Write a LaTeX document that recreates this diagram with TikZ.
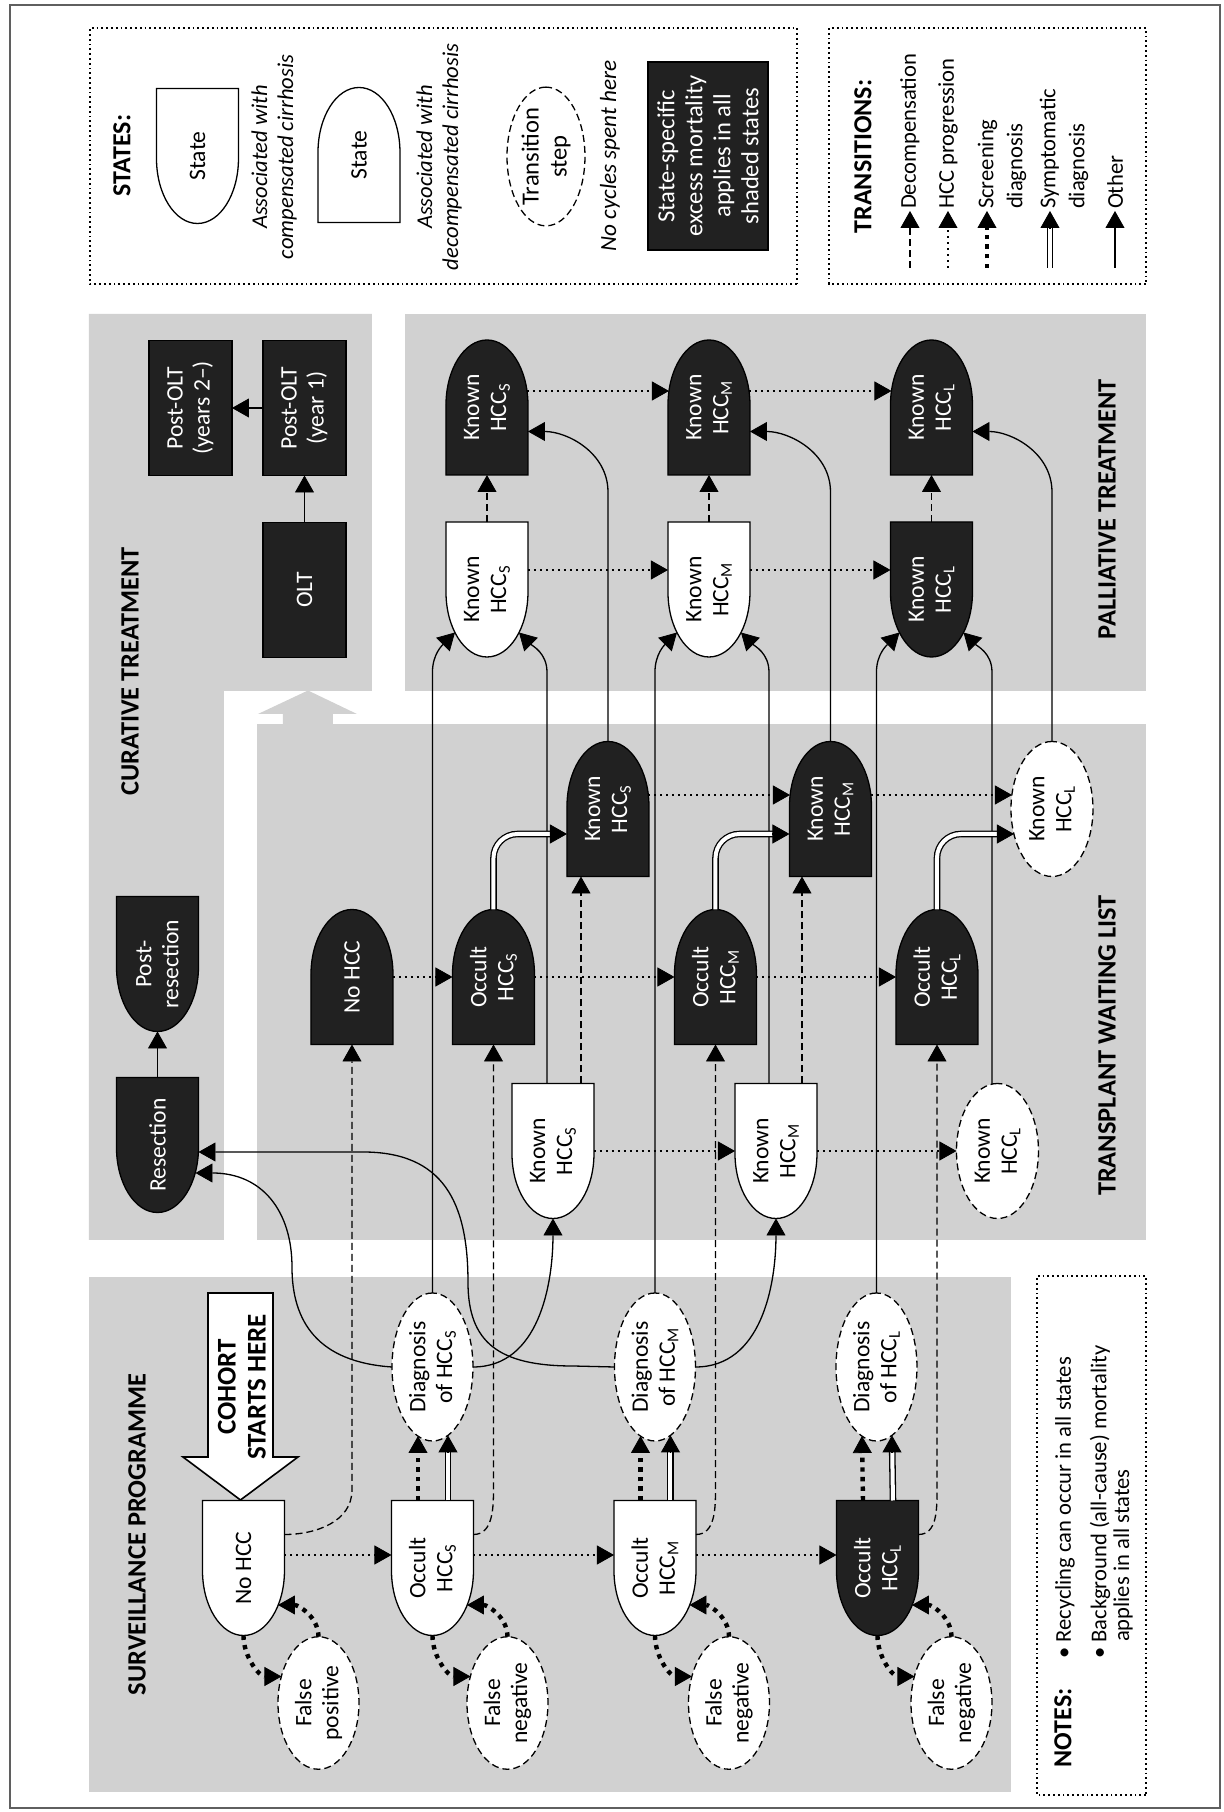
\documentclass[tikz,border=0pt]{standalone}
\usepackage{fontspec}
\setmainfont{Carlito}
\usetikzlibrary{arrows.meta,shapes.geometric,calc}
\definecolor{panel}{RGB}{209,209,209}
\definecolor{nblack}{RGB}{33,33,33}
\definecolor{framec}{RGB}{95,95,95}
\newcommand\hcc[1]{HCC\textsubscript{#1}}
\newcommand\CompState[5]{%
  \path[#3] ($(#2)+(67.5,41)$) -- ++(-70,0) arc[start angle=90,end angle=270,x radius=65,y radius=41] -- ++(70,0) -- cycle;
  \node[stbox,text=#4] (#1) at (#2) {#5};}
\newcommand\DecompState[5]{%
  \path[#3] ($(#2)+(-67.5,41)$) -- ++(70,0) arc[start angle=90,end angle=-90,x radius=65,y radius=41] -- ++(-70,0) -- cycle;
  \node[stbox,text=#4] (#1) at (#2) {#5};}
\tikzset{
 every node/.style={inner sep=0pt,outer sep=0pt},
 ntext/.style={font=\fontsize{11.8}{13.5}\selectfont,align=center},
 stbox/.style={rectangle,minimum width=67.5pt,minimum height=41pt,ntext},
 sblack/.style={fill=nblack,draw=black,line width=0.65pt},
 swhite/.style={fill=white,draw=black,line width=0.65pt},
 rectblack/.style={rectangle,fill=nblack,draw=black,line width=0.6pt,minimum width=67.5pt,minimum height=41.5pt,text=white,ntext},
 transit/.style={ellipse,draw=black,fill=white,line width=0.65pt,dash pattern=on 3.5pt off 2pt,minimum width=67.5pt,minimum height=41pt,ntext},
 tipb/.style={-{Triangle[length=8.5pt,width=9.5pt,line width=0.4pt]}},
 other/.style={draw=black,line width=0.65pt,tipb},
 decomp/.style={other,dash pattern=on 3.5pt off 2pt},
 prog/.style={other,line width=1pt,dash pattern=on 1pt off 2pt},
 screen/.style={other,line width=2.2pt,dash pattern=on 2.2pt off 2.6pt},
 symp/.style={draw=black,line width=0.65pt,double=white,double distance=2pt,shorten >=7.5pt},
 paneltitle/.style={font=\bfseries\fontsize{13.2}{15}\selectfont,align=center},
 boxhead/.style={font=\bfseries\fontsize{13}{15}\selectfont},
 legit/.style={font=\itshape\fontsize{11.3}{13}\selectfont,align=center},
 legtxt/.style={font=\fontsize{11.3}{14.5}\selectfont,align=left,anchor=west},
 notetxt/.style={font=\fontsize{11.3}{13}\selectfont,anchor=west},
 legbox/.style={draw=black,line width=0.9pt,dash pattern=on 0.9pt off 1.5pt},
 cohorttxt/.style={font=\bfseries\fontsize{13.5}{15}\selectfont,align=center},
}
\begin{document}
\begin{tikzpicture}[x=0.5pt,y=0.5pt,rotate=90,transform shape]
\useasboundingbox (0,0) rectangle (1812,1223);
\draw[framec,line width=0.9pt] (4,3) rectangle (1807,1213);
% panels
\fill[panel] (572,999) -- (572,1134) -- (1498,1134) -- (1498,851) -- (1121,851) -- (1121,999) -- cycle;
\fill[panel] (1121,77) rectangle (1498,818);
\fill[panel] (572,77) rectangle (1088,966);
\fill[panel] (20,212) rectangle (535,1134);
\fill[panel] (1087,890) -- (1098,890) -- (1098,866) -- (1121.5,915) -- (1098,965) -- (1098,940) -- (1087,940) -- cycle;
% legend boxes
\draw[legbox] (1528,426) rectangle (1784,1133);
\draw[legbox] (1528,77) rectangle (1784,394);
\draw[legbox] (17,77) rectangle (536,186);
% titles
\node[paneltitle] (tSurv) at (277.5,1086) {SURVEILLANCE PROGRAMME};
\node[paneltitle] (tCur) at (1140.5,1093) {CURATIVE TREATMENT};
\node[paneltitle] (tWait) at (766.5,116) {TRANSPLANT WAITING LIST};
\node[paneltitle] (tPal) at (1303,116) {PALLIATIVE TREATMENT};
% STATES legend
\node[boxhead] (hStates) at (1656.5,1101) {STATES:};
\CompState{lComp}{1656,1025.5}{swhite}{black}{State}
\node[legit] (lCompT) at (1655,949) {Associated with\\compensated cirrhosis};
\DecompState{lDecomp}{1657,864}{swhite}{black}{State}
\node[legit] (lDecompT) at (1655,784) {Associated with\\decompensated cirrhosis};
\node[transit,minimum height=39pt,font=\fontsize{12.3}{14}\selectfont] (lTrans) at (1655.5,677) {Transition\\step};
\node[legit,font=\itshape\fontsize{11.6}{13}\selectfont] (lTransT) at (1656,613) {No cycles spent here};
\node[rectblack,minimum width=94pt,minimum height=60pt,font=\fontsize{12.3}{14}\selectfont] (lBox) at (1656,515) {State-specific\\excess mortality\\applies in all\\shaded states};
% TRANSITIONS legend
\node[boxhead] (hTrans) at (1655.5,360) {TRANSITIONS:};
\coordinate (t1) at (1544,313); \node[legtxt] (T1) at (1603,313) {Decompensation};
\coordinate (t2) at (1544,275); \node[legtxt] (T2) at (1603,275) {HCC progression};
\coordinate (t3) at (1544,236); \node[legtxt] (T3) at (1603,221) {Screening\\diagnosis};
\coordinate (t4) at (1544,173); \node[legtxt] (T4) at (1603,159) {Symptomatic\\diagnosis};
\coordinate (t5) at (1544,108); \node[legtxt] (T5) at (1603,108) {Other};
\draw[decomp] (t1) -- (1601,313);
\draw[prog] (t2) -- (1601,275);
\draw[screen] (t3) -- (1601,236);
\draw[symp] (t4) -- (1601,173); \draw[other] (1584,173) -- (1601,173);
\draw[other] (t5) -- (1601,108);
% NOTES
\node[boxhead] (hNotes) at (84,160) {NOTES:};
\node[notetxt] (n1) at (153,158) {\textbullet\ Recycling can occur in all states};
\node[notetxt] (n2) at (153,123) {\textbullet\ Background (all-cause) mortality};
\node[notetxt] (n3) at (170,100) {applies in all states};
% curative
\node[rectblack] (postOLTb) at (1404,1032.5) {Post-OLT\\(years 2--)};
\node[rectblack] (postOLTa) at (1404,918.5) {Post-OLT\\(year 1)};
\node[rectblack] (OLT) at (1222,918.5) {OLT};
\CompState{postres}{848,1065.5}{sblack}{white}{Post-\\resection}
\CompState{resection}{667,1065.5}{sblack}{white}{Resection}
% palliative
\DecompState{pKs}{1404.5,736}{sblack}{white}{Known\\\hcc{S}}
\DecompState{pKm}{1404.5,514}{sblack}{white}{Known\\\hcc{M}}
\DecompState{pKl}{1404.5,291.5}{sblack}{white}{Known\\\hcc{L}}
\CompState{pKsw}{1222.5,736}{swhite}{black}{Known\\\hcc{S}}
\CompState{pKmw}{1222.5,514}{swhite}{black}{Known\\\hcc{M}}
\CompState{pKlb}{1222.5,291.5}{sblack}{white}{Known\\\hcc{L}}
% waiting list
\DecompState{wNo}{835,871}{sblack}{white}{No HCC}
\DecompState{wOs}{835,729.5}{sblack}{white}{Occult\\\hcc{S}}
\DecompState{wOm}{835,507.5}{sblack}{white}{Occult\\\hcc{M}}
\DecompState{wOl}{835,286}{sblack}{white}{Occult\\\hcc{L}}
\DecompState{wKs}{1003,615}{sblack}{white}{Known\\\hcc{S}}
\DecompState{wKm}{1003,392.5}{sblack}{white}{Known\\\hcc{M}}
\node[transit] (wKl) at (1003,171) {Known\\\hcc{L}};
\CompState{wKsw}{661,670}{swhite}{black}{Known\\\hcc{S}}
\CompState{wKmw}{661,447}{swhite}{black}{Known\\\hcc{M}}
\node[transit] (wKlw) at (661,225.5) {Known\\\hcc{L}};
% surveillance
\CompState{sNo}{244,979.5}{swhite}{black}{No HCC}
\CompState{sOs}{244,790.5}{swhite}{black}{Occult\\\hcc{S}}
\CompState{sOm}{244,568}{swhite}{black}{Occult\\\hcc{M}}
\CompState{sOl}{244,345.5}{sblack}{white}{Occult\\\hcc{L}}
\node[transit,minimum width=66.25pt,minimum height=40.5pt] (fp) at (109,904.5) {False\\positive};
\node[transit,minimum width=66.25pt,minimum height=40.5pt] (fns) at (109,715.5) {False\\negative};
\node[transit,minimum width=66.25pt,minimum height=40.5pt] (fnm) at (109,494) {False\\negative};
\node[transit,minimum width=66.25pt,minimum height=40.5pt] (fnl) at (109,271.5) {False\\negative};
\node[transit,minimum width=74pt,minimum height=40.5pt] (dgs) at (445,790.5) {Diagnosis\\of \hcc{S}};
\node[transit,minimum width=74pt,minimum height=40.5pt] (dgm) at (445,568) {Diagnosis\\of \hcc{M}};
\node[transit,minimum width=74pt,minimum height=40.5pt] (dgl) at (445,346.5) {Diagnosis\\of \hcc{L}};
% cohort arrow
\draw[fill=white,line width=0.8pt] (519,1015) -- (355,1015) -- (355,1040) -- (312,982.5) -- (355,925) -- (355,950) -- (519,950) -- cycle;
\node[cohorttxt] (cohort) at (425,981) {COHORT\\STARTS HERE};
% ---------- edges: curative
\draw[other] (OLT.east) -- (postOLTa.west);
\draw[other] (postOLTa.north) -- (postOLTb.south);
\draw[other] (resection.east) -- (postres.west);
% palliative
\draw[prog] ($(pKs.south)+(16.5,1)$) -- ($(pKm.north)+(16.5,-1)$);
\draw[prog] ($(pKm.south)+(16.5,1)$) -- ($(pKl.north)+(16.5,-1)$);
\draw[prog] ($(pKsw.south)+(19.5,0)$) -- ($(pKmw.north)+(19.5,0)$);
\draw[prog] ($(pKmw.south)+(19.5,0)$) -- ($(pKlb.north)+(19.5,0)$);
\draw[decomp] (pKsw.east) -- (pKs.west);
\draw[decomp] (pKmw.east) -- (pKm.west);
\draw[decomp] (pKlb.east) -- (pKl.west);
% into palliative compensated
\draw[other] (dgs.east) -- (1140,790.5) to[out=0,in=135] ($(pKsw.center)+(-43,32)$);
\draw[other] ($(wKsw.east)+(0,6)$) -- (1140,676) to[out=0,in=225] ($(pKsw.center)+(-43,-32)$);
\draw[other] (dgm.east) -- (1140,568) to[out=0,in=135] ($(pKmw.center)+(-43,32)$);
\draw[other] ($(wKmw.east)+(0,7)$) -- (1140,454) to[out=0,in=225] ($(pKmw.center)+(-43,-32)$);
\draw[other] (dgl.east) -- (1140,346.5) to[out=0,in=135] ($(pKlb.center)+(-43,32)$);
\draw[other] ($(wKlw.east)+(-0.5,5.5)$) -- (1140,231) to[out=0,in=225] ($(pKlb.center)+(-43,-32)$);
% into palliative decompensated
\draw[other] (wKs.east) -- (1320,615) to[out=0,in=-90] ($(pKs.south)+(-24,0)$);
\draw[other] (wKm.east) -- (1320,392.5) to[out=0,in=-90] ($(pKm.south)+(-24,0)$);
\draw[other] (wKl.east) -- (1320,171) to[out=0,in=-90] ($(pKl.south)+(-24,0)$);
% waiting list
\draw[prog] (wNo.south) -- (wOs.north);
\draw[prog] (wOs.south) -- (wOm.north);
\draw[prog] (wOm.south) -- (wOl.north);
\draw[prog] ($(wKs.south)+(14,0.5)$) -- ($(wKm.north)+(14,-0.5)$);
\draw[prog] ($(wKm.south)+(14,0.5)$) -- ($(wKl.center)+(14,40)$);
\draw[prog] (wKsw.south) -- (wKmw.north);
\draw[prog] (wKmw.south) -- (wKlw.north);
\draw[decomp] ($(wKsw.east)+(0,-28)$) -- ($(wKs.west)+(0,27)$);
\draw[decomp] ($(wKmw.east)+(0,-26)$) -- ($(wKm.west)+(0,28.5)$);
\draw[symp,rounded corners=12pt] (wOs.east) -- (978,729.5) -- ($(wKs.north)+(-25,0)$);
\draw[other] ($(wKs.north)+(-25,17)$) -- ($(wKs.north)+(-25,0)$);
\draw[symp,rounded corners=12pt] (wOm.east) -- (978,507.5) -- ($(wKm.north)+(-25,0)$);
\draw[other] ($(wKm.north)+(-25,17)$) -- ($(wKm.north)+(-25,0)$);
\draw[symp,rounded corners=12pt] (wOl.east) -- (978,286) -- ($(wKl.center)+(-25,38)$);
\draw[other] ($(wKl.center)+(-25,55)$) -- ($(wKl.center)+(-25,38)$);
% surveillance
\draw[prog] ($(sNo.south)+(13,0)$) -- ($(sOs.north)+(13,0)$);
\draw[prog] ($(sOs.south)+(13,0)$) -- ($(sOm.north)+(13,0)$);
\draw[prog] ($(sOm.south)+(13,0)$) -- ($(sOl.north)+(13,0)$);
\draw[decomp] ($(sNo.south)+(33.5,0)$) to[out=-90,in=180] (322,871) -- (wNo.west);
\draw[decomp] ($(sOs.south)+(33.5,0)$) to[out=-90,in=180] (322,729.5) -- (wOs.west);
\draw[decomp] ($(sOm.south)+(33.5,0)$) to[out=-90,in=180] (322,507.5) -- (wOm.west);
\draw[decomp] ($(sOl.south)+(33.5,0)$) to[out=-90,in=180] (322,286) -- (wOl.west);
\foreach \s/\d in {sOs/dgs,sOm/dgm,sOl/dgl}{
  \draw[screen] ($(\s.east)+(0,14.5)$) -- ($(\d.center)+(-69,14.5)$);
  \draw[symp] ($(\s.east)+(0,-15.5)$) -- ($(\d.center)+(-68.4,-15.5)$);
  \draw[other] ($(\d.center)+(-85.4,-15.5)$) -- ($(\d.center)+(-68.4,-15.5)$);
}
\foreach \s/\f in {sNo/fp,sOs/fns,sOm/fnm,sOl/fnl}{
  \draw[screen] (\s.west) to[out=180,in=90] ($(\f.center)+(26.5,37)$);
  \draw[screen] (\f.east) to[out=0,in=-90] ($(\s.center)+(-37,-34.5)$);
}
% diagnosis to known (waiting)
\draw[other] (dgs.south) to[out=-90,in=180] (wKsw.west);
\draw[other] (dgm.south) to[out=-90,in=180] (wKmw.west);
% diagnosis to resection
\draw[other] (dgs.north) .. controls (450,905) and (490,931) .. (545,931) .. controls (600,931) and (639,960) .. ($(resection.south)+(-28,3)$);
\draw[other] (dgm.north) -- (446,650) .. controls (446,725) and (470,755) .. (530,755) .. controls (610,755) and (660,780) .. (660,860) -- ($(resection.south)+(-7,0)$);
\end{tikzpicture}
\end{document}
